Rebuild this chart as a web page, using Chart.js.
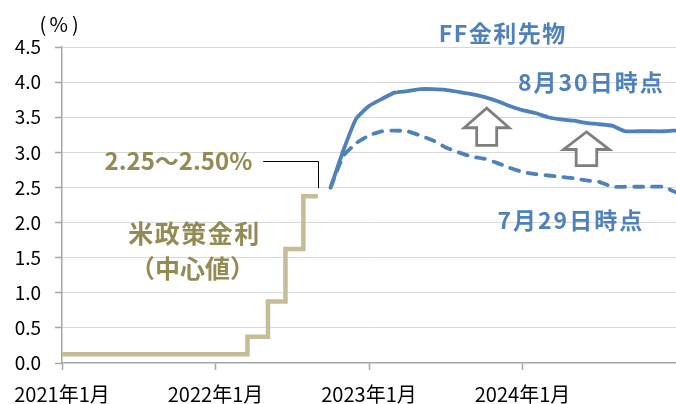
<!DOCTYPE html>
<html><head><meta charset="utf-8">
<script src="https://cdn.jsdelivr.net/npm/chart.js@4"></script>
<style>html,body{margin:0;padding:0;background:#fff}canvas{display:block}</style>
</head><body>
<canvas id="c" width="676" height="404"></canvas>
<script>
// months counted from 2021年1月 (= 0)
const xTickLabels = ['2021年1月', '2022年1月', '2023年1月', '2024年1月'];
const xTickMonths = [0, 12, 24, 36];
const yTickStep = 0.5;
const policyMonths = [0, 14.5, 16.1, 17.47, 18.87, 20.0];
const policyRates = [0.125, 0.375, 0.875, 1.625, 2.375, 2.375];
const futuresMonths = [21, 22, 23, 24, 25, 26, 27, 28, 29, 30, 31, 32, 33, 34, 35, 36, 37, 38, 39, 40, 41, 42, 43, 44, 45, 46, 47, 48];
const futuresAug30 = [2.50, 3.03, 3.48, 3.66, 3.76, 3.85, 3.87, 3.90, 3.90, 3.89, 3.86, 3.83, 3.79, 3.73, 3.66, 3.60, 3.56, 3.50, 3.47, 3.45, 3.42, 3.40, 3.38, 3.30, 3.30, 3.30, 3.30, 3.31];
const futuresJul29 = [2.50, 2.95, 3.13, 3.24, 3.30, 3.31, 3.30, 3.24, 3.17, 3.07, 3.00, 2.94, 2.91, 2.85, 2.78, 2.72, 2.69, 2.67, 2.65, 2.63, 2.60, 2.58, 2.51, 2.51, 2.51, 2.51, 2.51, 2.43];

const FONT = '"Noto Sans CJK JP", "Noto Sans", sans-serif';
const BLUE = '#4F81BD';
const OLIVE = '#948A54';
const KHAKI = '#C4BD97';

const toXY = (xs, ys) => xs.map((m, i) => ({ x: m, y: ys[i] }));

const annot = {
  id: 'annot',
  afterDraw(chart) {
    const { ctx, scales: { x, y } } = chart;
    const px = v => x.getPixelForValue(v), py = v => y.getPixelForValue(v);
    ctx.save();
    // connector line for the policy rate label
    ctx.strokeStyle = '#000'; ctx.lineWidth = 1;
    ctx.beginPath();
    const cx = Math.round(px(20.0)) + 0.5, cy = Math.round(py(2.87)) + 0.5;
    ctx.moveTo(px(15.73), cy); ctx.lineTo(cx, cy); ctx.lineTo(cx, py(2.49));
    ctx.stroke();
    // up arrows
    function arrow(m, top, base, bottom, hh, sh) {
      const X = px(m), T = py(top), B = py(base), E = py(bottom);
      ctx.beginPath();
      ctx.moveTo(X, T); ctx.lineTo(X + hh, B); ctx.lineTo(X + sh, B); ctx.lineTo(X + sh, E);
      ctx.lineTo(X - sh, E); ctx.lineTo(X - sh, B); ctx.lineTo(X - hh, B); ctx.closePath();
      ctx.fillStyle = '#fff'; ctx.fill();
      ctx.strokeStyle = '#7F7F7F'; ctx.lineWidth = 2.8; ctx.lineJoin = 'miter'; ctx.stroke();
    }
    arrow(33.2, 3.63, 3.35, 3.10, 22.5, 10);
    arrow(41.0, 3.29, 3.04, 2.81, 23, 10.3);
    // texts
    function text(s, m, v, size, color, bold, ls) {
      ctx.font = (bold ? 'bold ' : '') + size + 'px ' + FONT;
      ctx.fillStyle = color; ctx.textAlign = 'center'; ctx.textBaseline = 'middle';
      ctx.letterSpacing = (ls || 0) + 'px';
      ctx.fillText(s, px(m) + (ls || 0) / 2, py(v));
      ctx.letterSpacing = '0px';
    }
    // unit label "（%）" drawn piecewise so the wide parentheses keep their spacing
    text('(', -1.5, 4.82, 20, '#000', false, 0);
    text('%', -0.25, 4.82, 20, '#000', false, 0);
    text(')', 1.05, 4.82, 20, '#000', false, 0);
    text('FF金利先物', 34.4, 4.70, 23, BLUE, true, 1.5);
    text('8月30日時点', 41.3, 4.00, 23, BLUE, true, 2);
    text('7月29日時点', 39.7, 2.03, 23, BLUE, true, 2);
    text('米政策金利', 10.3, 1.85, 25, OLIVE, true, 1.5);
    text('（中心値）', 10.2, 1.34, 25, OLIVE, true, 0);
    text('2.25～2.50%', 9.1, 2.88, 24, OLIVE, true, 0);
    ctx.restore();
  }
};

new Chart(document.getElementById('c'), {
  type: 'line',
  data: {
    datasets: [
      { label: '米政策金利', data: toXY(policyMonths, policyRates), borderColor: KHAKI, borderWidth: 4.5,
        stepped: 'before', pointRadius: 0, borderJoinStyle: 'miter', borderCapStyle: 'butt', fill: false },
      { label: '8月30日時点', data: toXY(futuresMonths, futuresAug30), borderColor: BLUE, borderWidth: 3.8,
        pointRadius: 0, tension: 0.15, borderCapStyle: 'round', borderJoinStyle: 'round', fill: false },
      { label: '7月29日時点', data: toXY(futuresMonths, futuresJul29), borderColor: BLUE, borderWidth: 3.8,
        borderDash: [9, 9], borderCapStyle: 'round', pointRadius: 0, tension: 0.15, fill: false }
    ]
  },
  options: {
    responsive: false, devicePixelRatio: 1, animation: false,
    layout: { padding: { top: 47, right: 0, left: 0, bottom: 0 } },
    plugins: { legend: { display: false }, tooltip: { enabled: false } },
    scales: {
      x: {
        type: 'linear', min: 0, max: 48,
        afterBuildTicks: s => { s.ticks = xTickMonths.map(v => ({ value: v })); },
        afterFit: s => { s.height = 41; },
        ticks: { callback: (v) => xTickLabels[xTickMonths.indexOf(v)] ?? '', color: '#000',
          font: { family: FONT, size: 20 }, padding: 12, maxRotation: 0, autoSkip: false },
        grid: { drawOnChartArea: false, drawTicks: true, tickLength: 7, tickColor: '#A6A6A6', tickWidth: 1.5 },
        border: { color: '#A6A6A6', width: 1.5 }
      },
      y: {
        min: 0, max: 4.5,
        afterFit: s => { s.width = 62; },
        ticks: { stepSize: yTickStep, callback: v => v.toFixed(1), color: '#000',
          font: { family: FONT, size: 19 }, padding: 14 },
        grid: { color: c => c.tick && c.tick.value === 0 ? 'rgba(0,0,0,0)' : '#D9D9D9', lineWidth: 1,
          borderDash: [4, 3], drawTicks: true, tickLength: 7, tickColor: '#A6A6A6', tickWidth: 1.5, tickBorderDash: [] },
        border: { color: '#A6A6A6', width: 1.5 }
      }
    }
  },
  plugins: [annot]
});
</script>
</body></html>
